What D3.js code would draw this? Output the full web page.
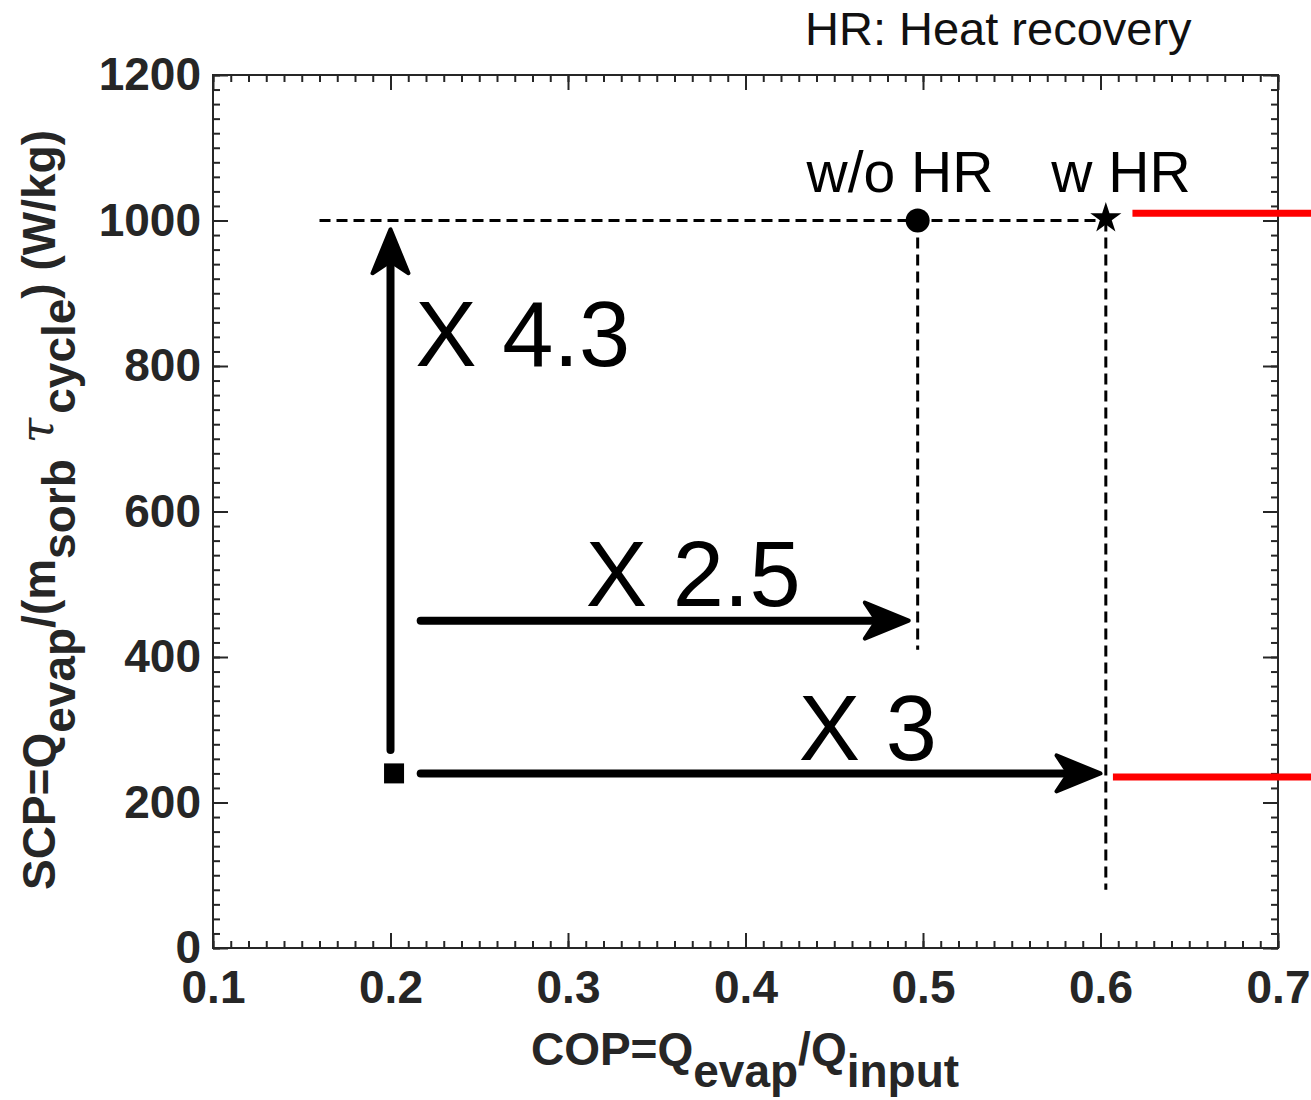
<!DOCTYPE html>
<html>
<head>
<meta charset="utf-8">
<script src="https://cdn.jsdelivr.net/npm/d3@7"></script>
<style>
  body { margin: 0; background: #fff; }
  svg { font-family: "Liberation Sans", Arial, sans-serif; }
</style>
</head>
<body>
<div id="vis"></div>
<script>
// Frame and plot box
const FRAME_WIDTH = 1311;
const FRAME_HEIGHT = 1100;
const BOX = {left: 213, right: 1278, top: 75, bottom: 948};

// Data
const X_TICKS = [0.1, 0.2, 0.3, 0.4, 0.5, 0.6, 0.7];
const Y_TICKS = [0, 200, 400, 600, 800, 1000, 1200];
const POINT_COP = [0.202, 0.497, 0.603];
const POINT_SCP = [240, 1000, 1003];
const POINT_SHAPE = ["square", "circle", "star"];

// arrows: start and end in data units
const ARROW_X0 = [0.200, 0.217, 0.217];
const ARROW_Y0 = [272, 450, 240];
const ARROW_X1 = [0.200, 0.492, 0.600];
const ARROW_Y1 = [988, 450, 240];
const ARROW_LABEL = ["X 4.3", "X 2.5", "X 3"];
const LABEL_X = [0.214, 0.31, 0.430];
const LABEL_Y = [800, 470, 258];

// dashed guide lines
const GUIDE_X0 = [0.160, 0.497, 0.603];
const GUIDE_Y0 = [1000, 1000, 1000];
const GUIDE_X1 = [0.600, 0.497, 0.603];
const GUIDE_Y1 = [1000, 410, 80];

// red lines on the right
const RED_X0 = [0.618, 0.607];
const RED_X1 = [0.76, 0.76];
const RED_Y = [1010, 235];

const X_SCALE = d3.scaleLinear().domain([0.1, 0.7]).range([BOX.left, BOX.right]);
const Y_SCALE = d3.scaleLinear().domain([0, 1200]).range([BOX.bottom, BOX.top]);

const FRAME = d3.select("#vis")
  .append("svg")
    .attr("width", FRAME_WIDTH)
    .attr("height", FRAME_HEIGHT);

const AXIS_COLOR = "#262626";
const minorX = d3.range(0, 61).map(i => 0.1 + i * 0.01);
const minorY = d3.range(0, 61).map(i => i * 20);

function styleAxis(g) {
  g.select(".domain").remove();
  g.selectAll(".tick line").attr("stroke", AXIS_COLOR).attr("stroke-width", 2);
}

// minor ticks (all four sides, pointing inward)
FRAME.append("g").attr("transform", "translate(0," + BOX.bottom + ")")
  .call(d3.axisBottom(X_SCALE).tickValues(minorX).tickSize(-7).tickFormat(""))
  .call(styleAxis);
FRAME.append("g").attr("transform", "translate(0," + BOX.top + ")")
  .call(d3.axisTop(X_SCALE).tickValues(minorX).tickSize(-7).tickFormat(""))
  .call(styleAxis);
FRAME.append("g").attr("transform", "translate(" + BOX.left + ",0)")
  .call(d3.axisLeft(Y_SCALE).tickValues(minorY).tickSize(-7).tickFormat(""))
  .call(styleAxis);
FRAME.append("g").attr("transform", "translate(" + BOX.right + ",0)")
  .call(d3.axisRight(Y_SCALE).tickValues(minorY).tickSize(-7).tickFormat(""))
  .call(styleAxis);

// major ticks with labels
FRAME.append("g").attr("transform", "translate(0," + BOX.bottom + ")")
  .call(d3.axisBottom(X_SCALE).tickValues(X_TICKS).tickSize(-15).tickPadding(22)
    .tickFormat(d3.format(".1f")))
  .call(styleAxis)
  .selectAll("text")
    .attr("font-size", "46px").attr("font-weight", "bold").attr("fill", AXIS_COLOR)
    .attr("font-family", "Liberation Sans, Arial, sans-serif");
FRAME.append("g").attr("transform", "translate(0," + BOX.top + ")")
  .call(d3.axisTop(X_SCALE).tickValues(X_TICKS).tickSize(-15).tickFormat(""))
  .call(styleAxis);
FRAME.append("g").attr("transform", "translate(" + BOX.left + ",0)")
  .call(d3.axisLeft(Y_SCALE).tickValues(Y_TICKS).tickSize(-15).tickPadding(12)
    .tickFormat(d3.format("d")))
  .call(styleAxis)
  .selectAll("text")
    .attr("font-size", "46px").attr("font-weight", "bold").attr("fill", AXIS_COLOR)
    .attr("font-family", "Liberation Sans, Arial, sans-serif");
FRAME.append("g").attr("transform", "translate(" + BOX.right + ",0)")
  .call(d3.axisRight(Y_SCALE).tickValues(Y_TICKS).tickSize(-15).tickFormat(""))
  .call(styleAxis);

// box
FRAME.append("rect")
  .attr("x", BOX.left).attr("y", BOX.top)
  .attr("width", BOX.right - BOX.left).attr("height", BOX.bottom - BOX.top)
  .attr("fill", "none").attr("stroke", AXIS_COLOR).attr("stroke-width", 2);

// dashed guides
FRAME.append("g").selectAll("line")
  .data(GUIDE_X0).enter().append("line")
    .attr("x1", (d, i) => X_SCALE(GUIDE_X0[i]))
    .attr("y1", (d, i) => Y_SCALE(GUIDE_Y0[i]))
    .attr("x2", (d, i) => X_SCALE(GUIDE_X1[i]))
    .attr("y2", (d, i) => Y_SCALE(GUIDE_Y1[i]))
    .attr("stroke", "#000").attr("stroke-width", 3)
    .attr("stroke-dasharray", "11,6");

// red lines
FRAME.append("g").selectAll("line")
  .data(RED_Y).enter().append("line")
    .attr("x1", (d, i) => X_SCALE(RED_X0[i]))
    .attr("x2", (d, i) => X_SCALE(RED_X1[i]))
    .attr("y1", d => Y_SCALE(d)).attr("y2", d => Y_SCALE(d))
    .attr("stroke", "#ff0000").attr("stroke-width", 7);

// arrows
const arrows = FRAME.append("g");
ARROW_X0.forEach((x0, i) => {
  const sx = X_SCALE(x0), sy = Y_SCALE(ARROW_Y0[i]);
  const ex = X_SCALE(ARROW_X1[i]), ey = Y_SCALE(ARROW_Y1[i]);
  const ang = Math.atan2(ey - sy, ex - sx) * 180 / Math.PI;
  const len = Math.hypot(ex - sx, ey - sy);
  const g = arrows.append("g")
    .attr("transform", "translate(" + sx + "," + sy + ") rotate(" + ang + ")");
  g.append("line")
    .attr("x1", 0).attr("y1", 0).attr("x2", len - 20).attr("y2", 0)
    .attr("stroke", "#000").attr("stroke-width", 8).attr("stroke-linecap", "round");
  g.append("path")
    .attr("d", "M" + len + ",0 L" + (len - 44) + ",-18 L" + (len - 32) + ",0 L" + (len - 44) + ",18 Z")
    .attr("fill", "#000").attr("stroke", "#000").attr("stroke-width", 4)
    .attr("stroke-linejoin", "round");
});

// arrow labels
FRAME.append("g").selectAll("text")
  .data(ARROW_LABEL).enter().append("text")
    .attr("x", (d, i) => X_SCALE(LABEL_X[i]))
    .attr("y", (d, i) => Y_SCALE(LABEL_Y[i]))
    .attr("font-size", "92px").attr("fill", "#000")
    .text(d => d);

// markers
const markers = FRAME.append("g");
POINT_COP.forEach((c, i) => {
  const px = X_SCALE(c), py = Y_SCALE(POINT_SCP[i]);
  if (POINT_SHAPE[i] === "square") {
    markers.append("rect").attr("x", px - 10).attr("y", py - 10)
      .attr("width", 20).attr("height", 20).attr("fill", "#000");
  } else if (POINT_SHAPE[i] === "circle") {
    markers.append("circle").attr("cx", px).attr("cy", py).attr("r", 12).attr("fill", "#000");
  } else {
    markers.append("path")
      .attr("transform", "translate(" + px + "," + py + ")")
      .attr("d", d3.symbol().type(d3.symbolStar).size(300)())
      .attr("fill", "#000");
  }
});

// point labels
FRAME.append("text").attr("x", 900).attr("y", 192)
  .attr("text-anchor", "middle").attr("font-size", "57px").text("w/o HR");
FRAME.append("text").attr("x", 1121).attr("y", 192)
  .attr("text-anchor", "middle").attr("font-size", "57px").text("w HR");
FRAME.append("text").attr("x", 805).attr("y", 45)
  .attr("font-size", "47px").attr("fill", "#111").text("HR: Heat recovery");

// x axis label
const xl = FRAME.append("text")
  .attr("x", 745).attr("y", 1065)
  .attr("text-anchor", "middle").attr("font-size", "46px").attr("font-weight", "bold")
  .attr("fill", AXIS_COLOR);
xl.append("tspan").text("COP=Q");
xl.append("tspan").attr("dy", 22).text("evap");
xl.append("tspan").attr("dy", -22).text("/Q");
xl.append("tspan").attr("dy", 22).text("input");

// y axis label
const yl = FRAME.append("text")
  .attr("transform", "translate(55,510) rotate(-90)")
  .attr("text-anchor", "middle").attr("font-size", "46px").attr("font-weight", "bold")
  .attr("fill", AXIS_COLOR);
yl.append("tspan").text("SCP=Q");
yl.append("tspan").attr("dy", 20).text("evap");
yl.append("tspan").attr("dy", -20).text("/(m");
yl.append("tspan").attr("dy", 20).text("sorb");
yl.append("tspan").attr("dy", -22).attr("font-weight", "normal").attr("font-style", "italic")
  .attr("font-family", "DejaVu Serif, serif").attr("dx", 16).text("τ");
yl.append("tspan").attr("dy", 22).attr("dx", 4).text("cycle");
yl.append("tspan").attr("dy", -20).text(") (W/kg)");
</script>
</body>
</html>
